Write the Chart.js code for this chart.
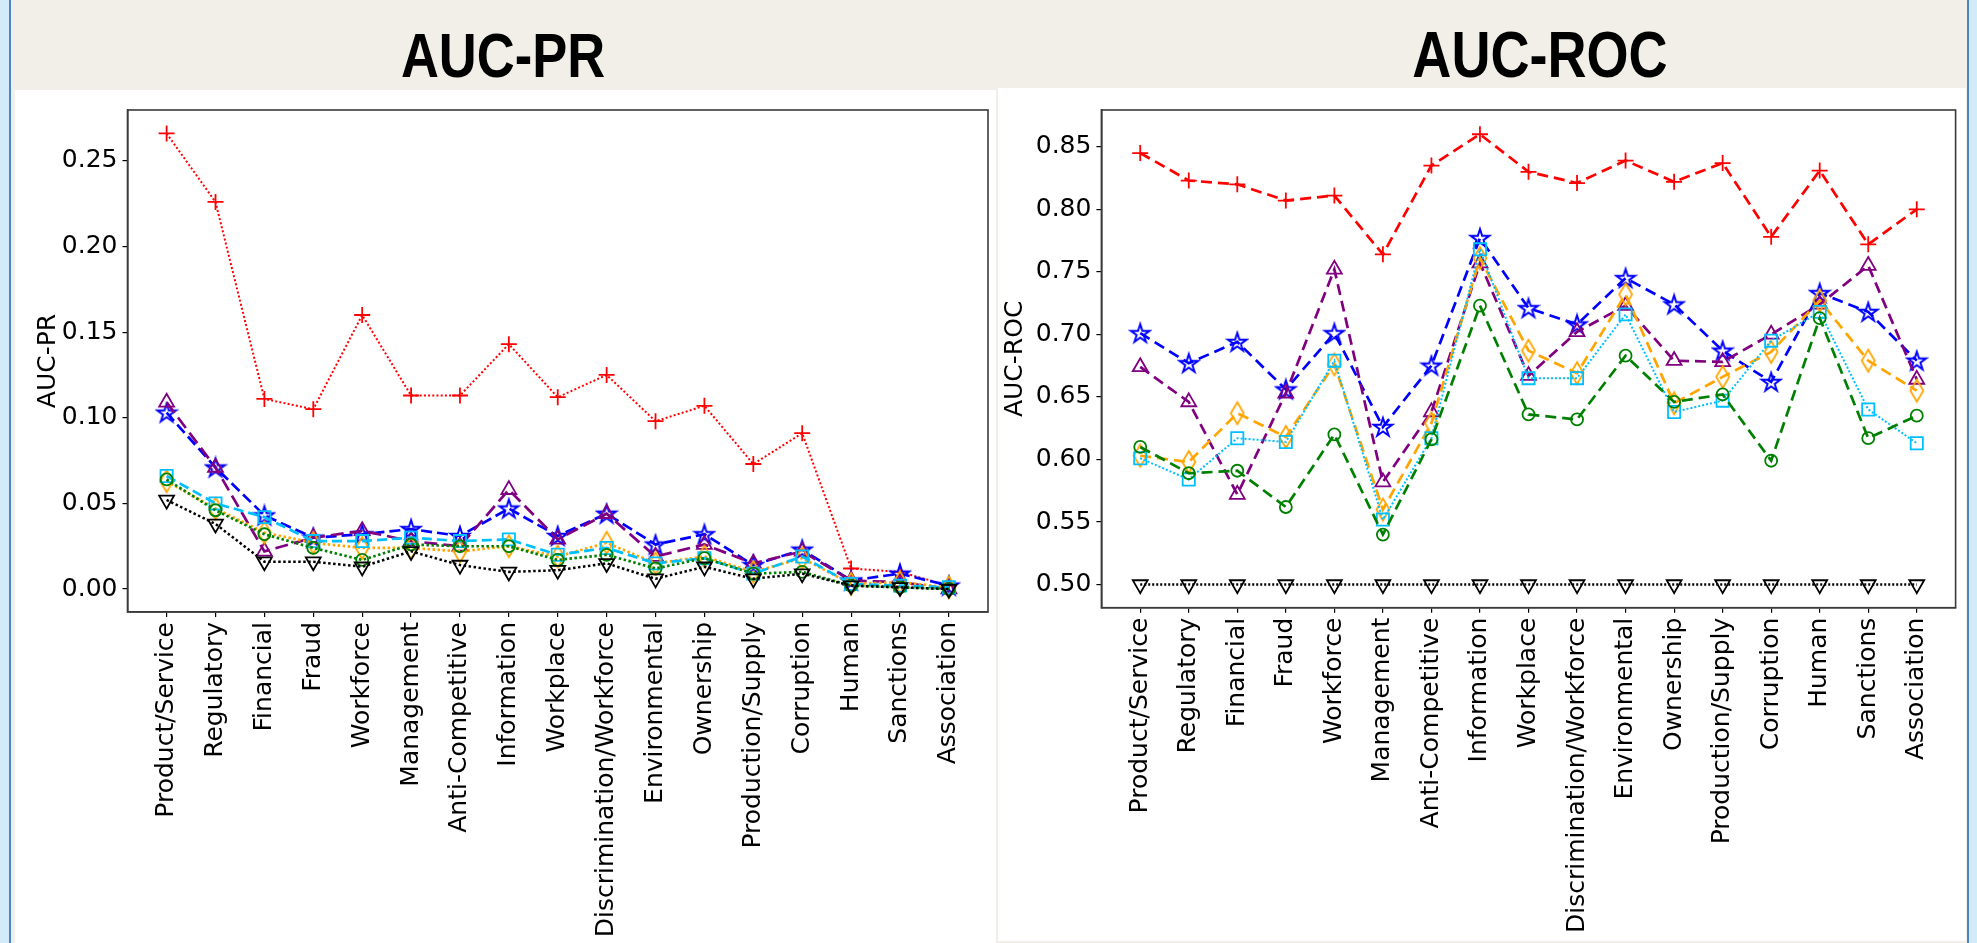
<!DOCTYPE html>
<html>
<head>
<meta charset="utf-8">
<script src="https://cdn.jsdelivr.net/npm/chart.js@4.4.1/dist/chart.umd.min.js"></script>
<style>
  html, body { margin: 0; padding: 0; }
  body { width: 1977px; height: 943px; position: relative; overflow: hidden; background: #f2efe8; }
  .edge { position: absolute; top: 0; height: 943px; background: #d3ebf8; }
  .edge-l { left: 0; width: 9px; border-right: 2px solid #4f83c8; }
  .edge-r { right: 0; width: 8px; border-left: 2px solid #4f83c8; }
  .panel { position: absolute; background: #fff; }
  .title { position: absolute; top: 24px; width: 400px; text-align: center; color: #000;
           font-family: "Liberation Sans", Arial, sans-serif;
           font-weight: bold; font-size: 63px; line-height: 63px; transform-origin: 50% 50%; }
</style>
</head>
<body>
<div class="edge edge-l"></div>
<div class="edge edge-r"></div>
<div class="panel" style="left:15px; top:90px; width:981px; height:853px;"></div>
<div class="panel" style="left:998px; top:88px; width:968px; height:853px;"></div>
<div class="title" style="left:303px; transform: scaleX(0.833);">AUC-PR</div>
<div class="title" style="left:1340px; font-size:64px; transform: scaleX(0.845);">AUC-ROC</div>
<div style="position:absolute; left:15px; top:90px; width:985px; height:853px;"><canvas id="pr"></canvas></div>
<div style="position:absolute; left:1000px; top:90px; width:966px; height:853px;"><canvas id="roc"></canvas></div>
<script>
const categories = ['Product/Service', 'Regulatory', 'Financial', 'Fraud', 'Workforce', 'Management',
  'Anti-Competitive', 'Information', 'Workplace', 'Discrimination/Workforce', 'Environmental',
  'Ownership', 'Production/Supply', 'Corruption', 'Human', 'Sanctions', 'Association'];

// AUC-PR values per marker series
const prPlus     = [0.266, 0.226, 0.111, 0.105, 0.160, 0.113, 0.113, 0.143, 0.112, 0.125, 0.098, 0.107, 0.073, 0.091, 0.012, 0.010, 0.002];
const prStar     = [0.103, 0.071, 0.043, 0.030, 0.032, 0.035, 0.031, 0.047, 0.031, 0.044, 0.026, 0.032, 0.014, 0.023, 0.005, 0.009, 0.002];
const prTriangle = [0.109, 0.071, 0.022, 0.030, 0.034, 0.028, 0.025, 0.058, 0.029, 0.044, 0.019, 0.026, 0.015, 0.022, 0.005, 0.004, 0.000];
const prDiamond  = [0.063, 0.047, 0.033, 0.027, 0.024, 0.024, 0.022, 0.025, 0.019, 0.027, 0.015, 0.019, 0.010, 0.018, 0.003, 0.004, 0.001];
const prSquare   = [0.066, 0.050, 0.042, 0.028, 0.028, 0.030, 0.028, 0.029, 0.020, 0.024, 0.015, 0.018, 0.009, 0.019, 0.003, 0.002, 0.001];
const prCircle   = [0.064, 0.046, 0.032, 0.024, 0.017, 0.026, 0.025, 0.025, 0.017, 0.020, 0.012, 0.018, 0.009, 0.010, 0.002, 0.001, 0.000];
const prDown     = [0.052, 0.038, 0.016, 0.016, 0.013, 0.022, 0.014, 0.010, 0.011, 0.015, 0.006, 0.013, 0.006, 0.009, 0.002, 0.001, 0.000];

// AUC-ROC values per marker series
const rocPlus     = [0.845, 0.823, 0.820, 0.807, 0.811, 0.764, 0.835, 0.860, 0.830, 0.821, 0.839, 0.822, 0.837, 0.778, 0.831, 0.772, 0.800];
const rocStar     = [0.701, 0.677, 0.694, 0.656, 0.701, 0.626, 0.675, 0.777, 0.721, 0.708, 0.745, 0.724, 0.687, 0.662, 0.733, 0.718, 0.679];
const rocTriangle = [0.674, 0.646, 0.572, 0.653, 0.752, 0.582, 0.638, 0.757, 0.667, 0.702, 0.723, 0.679, 0.678, 0.700, 0.724, 0.755, 0.664];
const rocDiamond  = [0.603, 0.598, 0.637, 0.618, 0.676, 0.560, 0.629, 0.761, 0.687, 0.669, 0.732, 0.645, 0.666, 0.686, 0.727, 0.679, 0.655];
const rocSquare   = [0.601, 0.584, 0.617, 0.614, 0.679, 0.552, 0.617, 0.768, 0.665, 0.665, 0.716, 0.638, 0.647, 0.695, 0.718, 0.640, 0.613];
const rocCircle   = [0.610, 0.589, 0.591, 0.562, 0.620, 0.540, 0.616, 0.723, 0.636, 0.632, 0.683, 0.646, 0.652, 0.599, 0.713, 0.617, 0.635];
const rocDown     = [0.500, 0.500, 0.500, 0.500, 0.500, 0.500, 0.500, 0.500, 0.500, 0.500, 0.500, 0.500, 0.500, 0.500, 0.500, 0.500, 0.500];

const prTicks  = [0.00, 0.05, 0.10, 0.15, 0.20, 0.25];
const rocTicks = [0.50, 0.55, 0.60, 0.65, 0.70, 0.75, 0.80, 0.85];

const FONT = { family: 'DejaVu Sans', size: 25 };

// hollow 5-point star like matplotlib '*'
function starImage(color) {
  const c = document.createElement('canvas');
  c.width = c.height = 24;
  const g = c.getContext('2d');
  const r = 9.8, ri = r * 0.382;
  g.beginPath();
  for (let i = 0; i < 10; i++) {
    const a = -Math.PI / 2 + i * Math.PI / 5;
    const rr = i % 2 ? ri : r;
    g.lineTo(12 + rr * Math.cos(a), 12.8 + rr * Math.sin(a));
  }
  g.closePath();
  g.strokeStyle = color;
  g.lineWidth = 2;
  g.stroke();
  return c;
}

// hollow thin diamond like matplotlib 'd'
function diamondImage(color) {
  const c = document.createElement('canvas');
  c.width = 18; c.height = 26;
  const g = c.getContext('2d');
  g.beginPath();
  g.moveTo(9, 2); g.lineTo(15.5, 13); g.lineTo(9, 24); g.lineTo(2.5, 13);
  g.closePath();
  g.strokeStyle = color;
  g.lineWidth = 1.8;
  g.stroke();
  return c;
}

function series(label, values, color, marker, dash, width) {
  const d = {
    label: label,
    data: values.map((v, i) => ({ x: i, y: v })),
    borderColor: color,
    borderWidth: width,
    borderDash: dash,
    fill: false,
    tension: 0,
    pointBorderColor: color,
    pointBackgroundColor: 'rgba(0,0,0,0)',
    pointBorderWidth: 1.8,
    pointRadius: 8,
    pointStyle: marker
  };
  if (marker === 'circle') d.pointRadius = 6;
  if (marker === 'rect') d.pointRadius = 8.6;
  if (marker === 'triangle') d.pointRadius = 8.6;
  if (marker === 'down') { d.pointStyle = 'triangle'; d.pointRotation = 180; d.pointRadius = 8.6; }
  return d;
}

const boxPlugin = {
  id: 'box',
  afterDraw(chart) {
    const a = chart.chartArea, ctx = chart.ctx;
    ctx.save();
    ctx.strokeStyle = '#3a3a3a';
    ctx.lineWidth = 1.6;
    ctx.strokeRect(a.left, a.top, a.right - a.left, a.bottom - a.top);
    ctx.restore();
  }
};

function makeChart(id, title, datasets, ticks, yMin, yMax, pad, yWidth, xHeight, titlePad) {
  datasets.forEach((d, i) => { d.order = datasets.length - i; });
  return new Chart(document.getElementById(id), {
    type: 'line',
    data: { datasets: datasets },
    options: {
      responsive: true,
      maintainAspectRatio: false,
      animation: false,
      layout: { padding: pad },
      plugins: { legend: { display: false }, tooltip: { enabled: false } },
      scales: {
        x: {
          type: 'linear',
          min: -0.8,
          max: categories.length - 1 + 0.8,
          afterBuildTicks: s => { s.ticks = categories.map((c, i) => ({ value: i })); },
          afterFit: s => { s.height = xHeight; },
          ticks: {
            autoSkip: false, minRotation: 90, maxRotation: 90, padding: 5,
            color: '#000', font: FONT,
            callback: v => categories[v]
          },
          grid: { drawOnChartArea: false, drawTicks: true, tickLength: 5, color: '#000', lineWidth: 1.2 },
          border: { display: true, color: '#3a3a3a', width: 1.6 }
        },
        y: {
          min: yMin,
          max: yMax,
          afterBuildTicks: s => { s.ticks = ticks.map(v => ({ value: v })); },
          afterFit: s => { s.width = yWidth; },
          ticks: { padding: 5, color: '#000', font: FONT, callback: v => v.toFixed(2) },
          grid: { drawOnChartArea: false, drawTicks: true, tickLength: 5, color: '#000', lineWidth: 1.2 },
          border: { display: true, color: '#3a3a3a', width: 1.6 },
          title: { display: true, text: title, color: '#000', font: FONT, padding: { top: titlePad, bottom: 0 } }
        }
      }
    },
    plugins: [boxPlugin]
  });
}

const dotPR = [2.5, 2.5];
makeChart('pr', 'AUC-PR', [
  series('Plus', prPlus, '#ff0000', 'cross', [2, 2.2], 2),
  series('Star', prStar, '#0000ff', starImage('#0000ff'), [11, 5], 2.7),
  series('Triangle', prTriangle, '#800080', 'triangle', [13, 6], 2.7),
  series('Diamond', prDiamond, '#ffa500', diamondImage('#ffa500'), dotPR, 2.7),
  series('Square', prSquare, '#00bfff', 'rect', [10, 5], 2.7),
  series('Circle', prCircle, '#008000', 'circle', dotPR, 2.7),
  series('Down', prDown, '#000000', 'down', dotPR, 2.5)
], prTicks, -0.0134, 0.2797, { left: 0, right: 12, top: 9, bottom: 0 }, 112.5, 331, 18);

makeChart('roc', 'AUC-ROC', [
  series('Plus', rocPlus, '#ff0000', 'cross', [11, 6], 2.7),
  series('Star', rocStar, '#0000ff', starImage('#0000ff'), [11, 6], 2.7),
  series('Triangle', rocTriangle, '#800080', 'triangle', [11, 6], 2.7),
  series('Diamond', rocDiamond, '#ffa500', diamondImage('#ffa500'), [11, 6], 2.7),
  series('Square', rocSquare, '#00bfff', 'rect', [2, 2], 2),
  series('Circle', rocCircle, '#008000', 'circle', [11, 6], 2.7),
  series('Down', rocDown, '#000000', 'down', [2, 2], 2.5)
], rocTicks, 0.4815, 0.8794, { left: 0, right: 10, top: 7.3, bottom: 0 }, 101.4, 335.3, 0);
</script>
</body>
</html>
